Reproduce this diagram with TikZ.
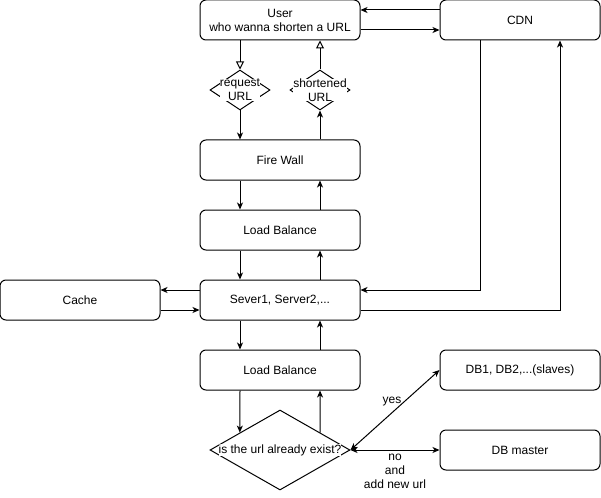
\documentclass[tikz,border=0pt]{standalone}
\usepackage{fontspec}
\setmainfont{Liberation Sans}
\usetikzlibrary{shapes.geometric, arrows.meta, calc}

\begin{document}
\begin{tikzpicture}[
    x=1pt, y=-1pt,
    line width=1pt,
    font=\fontsize{12}{14}\selectfont,
    >={Stealth[length=7pt, width=6pt, inset=2pt]},
    box/.style={draw=black, rounded corners=6pt, minimum width=160pt, minimum height=40pt, align=center},
    decision/.style={draw=black, diamond, inner sep=0pt},
    dlabel/.style={fill=white, inner sep=0pt, align=center},
    arrow/.style={->},
    openarrow/.style={-{Triangle[open, length=8pt, width=8pt]}}
]
    \useasboundingbox (0,0) rectangle (601,497);

    \node[box] (user) at (280,20) {User\\who wanna shorten a URL};
    \node[box] (cdn) at (520,20) {CDN};
    \node[decision, minimum width=60pt, minimum height=40pt,
          label={[dlabel]center:request\\URL}] (req) at (240,90) {};
    \node[decision, minimum width=60pt, minimum height=40pt,
          label={[dlabel]center:shortened\\URL}] (short) at (320,90) {};
    \node[box] (fw) at (280,160) {Fire Wall};
    \node[box] (lbtop) at (280,230) {Load Balance};
    \node[box] (server) at (280,300) {Sever1, Server2,...};
    \node[box] (cache) at (80,300) {Cache};
    \node[box] (lbdb) at (280,370) {Load Balance};
    \node[decision, minimum width=140pt, minimum height=80pt,
          label={[dlabel]center:is the url already exist?}] (check) at (280,450) {};
    \node[box] (slaves) at (520,370) {DB1, DB2,...(slaves)};
    \node[box] (master) at (520,450) {DB master};

    % user <-> cdn
    \draw[arrow] ([yshift=10pt]cdn.west) -- ([yshift=10pt]user.east);
    \draw[arrow] ([yshift=-10pt]user.east) -- ([yshift=-10pt]cdn.west);

    % user <-> diamonds
    \draw[openarrow] ([xshift=-40pt]user.south) -- (req.north);
    \draw[openarrow] (short.north) -- ([xshift=40pt]user.south);

    % down and up the chain
    \draw[arrow] (req.south) -- ([xshift=-40pt]fw.north);
    \draw[arrow] ([xshift=40pt]fw.north) -- (short.south);
    \draw[arrow] ([xshift=-40pt]fw.south) -- ([xshift=-40pt]lbtop.north);
    \draw[arrow] ([xshift=40pt]lbtop.north) -- ([xshift=40pt]fw.south);
    \draw[arrow] ([xshift=-40pt]lbtop.south) -- ([xshift=-40pt]server.north);
    \draw[arrow] ([xshift=40pt]server.north) -- ([xshift=40pt]lbtop.south);
    \draw[arrow] ([xshift=-40pt]server.south) -- ([xshift=-40pt]lbdb.north);
    \draw[arrow] ([xshift=40pt]lbdb.north) -- ([xshift=40pt]server.south);
    \draw[arrow] ([xshift=-40pt]lbdb.south) -- ($(check.west)!0.43!(check.north)$);
    \draw[arrow] ($(check.east)!0.43!(check.north)$) -- ([xshift=40pt]lbdb.south);

    % cache and cdn
    \draw[arrow] ([yshift=10pt]server.west) -- ([yshift=10pt]cache.east);
    \draw[arrow] ([yshift=-10pt]cache.east) -- ([yshift=-10pt]server.west);
    \draw[arrow] ([xshift=-40pt]cdn.south) |- ([yshift=10pt]server.east);
    \draw[arrow] ([yshift=-10pt]server.east) -| ([xshift=40pt]cdn.south);

    % databases
    \draw[arrow, <->] (check.east) -- node[above, xshift=-3pt] {yes} (slaves.west);
    \draw[arrow, <->] (check.east) -- node[below, align=center] {no\\and\\add new url} (master.west);

\end{tikzpicture}
\end{document}
